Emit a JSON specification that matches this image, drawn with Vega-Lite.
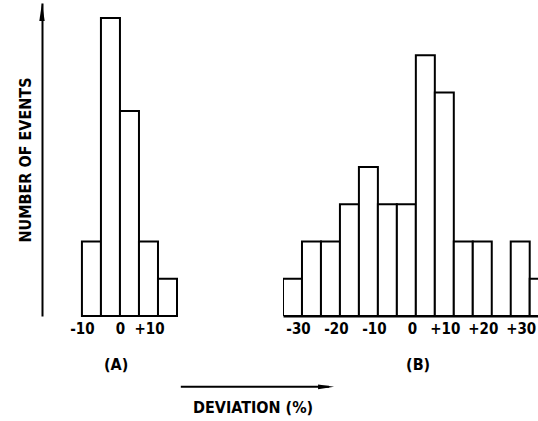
{
  "$schema": "https://vega.github.io/schema/vega-lite/v6.json",
  "padding": {"left": 17, "top": 3, "right": 0, "bottom": 0},
  "background": "white",
  "bounds": "flush",
  "spacing": 106,
  "config": {
    "view": {"stroke": null},
    "font": "DejaVu Sans Condensed",
    "axis": {
      "labelFont": "DejaVu Sans Condensed",
      "labelFontSize": 15,
      "labelFontWeight": "bold",
      "labelColor": "black",
      "labelPadding": 5,
      "grid": false,
      "ticks": false,
      "domainColor": "black",
      "domainWidth": 2,
      "titleFont": "DejaVu Sans Condensed",
      "titleFontSize": 16,
      "titleFontWeight": "bold",
      "titleColor": "black"
    }
  },
  "datasets": {
    "A": [
      {"start": -10, "end": -5, "count": 2},
      {"start": -5, "end": 0, "count": 8},
      {"start": 0, "end": 5, "count": 5.5},
      {"start": 5, "end": 10, "count": 2},
      {"start": 10, "end": 15, "count": 1}
    ],
    "B": [
      {"start": -35, "end": -30, "count": 1},
      {"start": -30, "end": -25, "count": 2},
      {"start": -25, "end": -20, "count": 2},
      {"start": -20, "end": -15, "count": 3},
      {"start": -15, "end": -10, "count": 4},
      {"start": -10, "end": -5, "count": 3},
      {"start": -5, "end": 0, "count": 3},
      {"start": 0, "end": 5, "count": 7},
      {"start": 5, "end": 10, "count": 6},
      {"start": 10, "end": 15, "count": 2},
      {"start": 15, "end": 20, "count": 2},
      {"start": 20, "end": 25, "count": 0},
      {"start": 25, "end": 30, "count": 2},
      {"start": 30, "end": 35, "count": 1}
    ],
    "labelA": [{"x": -1, "y": -1.31, "text": "(A)"}],
    "labelB": [{"x": 0.6, "y": -1.31, "text": "(B)"}],
    "devArrow": [{"x": 16, "y": -1.9}, {"x": 55, "y": -1.9}],
    "devHead": [{"x": 56.3, "y": -1.9}],
    "devText": [{"x": 35, "y": -2.47, "text": "DEVIATION (%)"}],
    "yArrow": [{"x": -20.5, "y": 8.4}]
  },
  "hconcat": [
    {
      "width": 135,
      "height": 313,
      "layer": [
        {
          "data": {"name": "A"},
          "mark": {"type": "bar", "fill": "white", "stroke": "black", "strokeWidth": 2},
          "encoding": {
            "x": {"field": "start", "type": "quantitative",
                  "scale": {"domain": [-20.5, 15], "nice": false, "zero": false},
                  "axis": {"values": [-10, 0, 10], "domain": false, "title": null,
                           "labelOffset": {"condition": {"test": "datum.value > 0", "value": -9}, "value": 0},
                           "labelExpr": "datum.value > 0 ? '+' + datum.value : (datum.value < 0 ? '-' + abs(datum.value) : '0')"}},
            "x2": {"field": "end"},
            "y": {"field": "count", "type": "quantitative",
                  "scale": {"domain": [0, 8.4], "nice": false},
                  "axis": {"title": "NUMBER OF EVENTS", "labels": false, "ticks": false, "titlePadding": 9, "domain": true}},
            "y2": {"datum": 0}
          }
        },
        {
          "data": {"name": "yArrow"},
          "mark": {"type": "point", "shape": "M0,0L0.3,2L-0.3,2Z", "filled": true, "color": "black", "size": 324, "opacity": 1},
          "encoding": {"x": {"field": "x", "type": "quantitative"}, "y": {"field": "y", "type": "quantitative"}}
        },
        {
          "data": {"name": "labelA"},
          "mark": {"type": "text", "fontSize": 16, "fontWeight": "bold", "color": "black", "baseline": "middle"},
          "encoding": {"x": {"field": "x", "type": "quantitative"}, "y": {"field": "y", "type": "quantitative"}, "text": {"field": "text"}}
        },
        {
          "data": {"name": "devArrow"},
          "mark": {"type": "line", "color": "black", "strokeWidth": 2},
          "encoding": {"x": {"field": "x", "type": "quantitative"}, "y": {"field": "y", "type": "quantitative"}}
        },
        {
          "data": {"name": "devHead"},
          "mark": {"type": "point", "shape": "M0,0L-2,-0.3L-2,0.3Z", "filled": true, "color": "black", "size": 256, "opacity": 1},
          "encoding": {"x": {"field": "x", "type": "quantitative"}, "y": {"field": "y", "type": "quantitative"}}
        },
        {
          "data": {"name": "devText"},
          "mark": {"type": "text", "fontSize": 16, "fontWeight": "bold", "color": "black", "baseline": "middle"},
          "encoding": {"x": {"field": "x", "type": "quantitative"}, "y": {"field": "y", "type": "quantitative"}, "text": {"field": "text"}}
        }
      ]
    },
    {
      "width": 260,
      "height": 313,
      "layer": [
        {
          "data": {"name": "B"},
          "mark": {"type": "bar", "fill": "white", "stroke": "black", "strokeWidth": 2, "clip": true},
          "encoding": {
            "x": {"field": "start", "type": "quantitative",
                  "scale": {"domain": [-35, 33.5], "nice": false, "zero": false},
                  "axis": {"values": [-30, -20, -10, 0, 10, 20, 30], "domain": true, "title": null,
                           "labelOffset": {"condition": {"test": "datum.value > 0", "value": -9}, "value": -4},
                           "labelExpr": "datum.value > 0 ? '+' + datum.value : (datum.value < 0 ? '-' + abs(datum.value) : '0')"}},
            "x2": {"field": "end"},
            "y": {"field": "count", "type": "quantitative",
                  "scale": {"domain": [0, 8.4], "nice": false},
                  "axis": null},
            "y2": {"datum": 0}
          }
        },
        {
          "data": {"name": "labelB"},
          "mark": {"type": "text", "fontSize": 16, "fontWeight": "bold", "color": "black", "baseline": "middle"},
          "encoding": {"x": {"field": "x", "type": "quantitative"}, "y": {"field": "y", "type": "quantitative"}, "text": {"field": "text"}}
        }
      ]
    }
  ]
}
